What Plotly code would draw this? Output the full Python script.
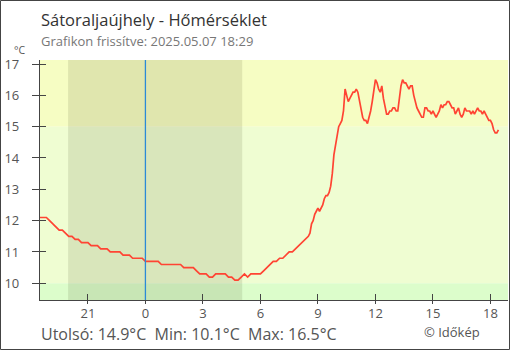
import pandas as pd
import plotly.graph_objects as go

# ---- data -------------------------------------------------------------
# Overnight readings (every 10 minutes from 18:30 on 05.06), °C
night_temps = [
    12.1, 12.1, 12.1, 12.0, 11.9, 11.8, 11.7, 11.7, 11.6, 11.5,
    11.5, 11.4, 11.4, 11.3, 11.3, 11.3, 11.2, 11.2, 11.2, 11.1,
    11.1, 11.1, 11.0, 11.0, 11.0, 11.0, 10.9, 10.9, 10.9, 10.8,
    10.8, 10.8, 10.8, 10.7, 10.7, 10.7, 10.7, 10.7, 10.6, 10.6,
    10.6, 10.6, 10.6, 10.6, 10.6, 10.5, 10.5, 10.5, 10.5, 10.4,
    10.3, 10.3, 10.3, 10.2, 10.2, 10.3, 10.3, 10.3, 10.3, 10.2,
    10.2, 10.1, 10.1, 10.2, 10.3, 10.2, 10.3, 10.3, 10.3, 10.3,
    10.4, 10.5, 10.6, 10.7, 10.7, 10.8, 10.8, 10.9, 11.0, 11.0,
    11.1, 11.2, 11.3, 11.4,
]
# Daytime readings (every 5 minutes from 08:30 on 05.07), °C
day_temps = [
    11.5, 11.6, 11.9, 12.0, 12.2, 12.3, 12.4, 12.3, 12.4, 12.5,
    12.7, 12.8, 12.8, 12.9, 13.1, 13.5, 14.1, 14.4, 14.7, 15.0,
    15.1, 15.2, 15.5, 16.2, 16.0, 15.8, 15.9, 16.0, 16.1, 16.1,
    16.2, 16.1, 15.8, 15.6, 15.3, 15.2, 15.2, 15.1, 15.3, 15.5,
    15.8, 16.1, 16.5, 16.4, 16.2, 16.1, 16.3, 15.9, 15.6, 15.4,
    15.4, 15.5, 15.5, 15.6, 15.6, 15.5, 15.5, 15.9, 16.3, 16.5,
    16.4, 16.4, 16.3, 16.2, 16.3, 16.3, 16.0, 15.8, 15.6, 15.5,
    15.4, 15.3, 15.3, 15.6, 15.6, 15.5, 15.5, 15.4, 15.5, 15.4,
    15.3, 15.4, 15.5, 15.7, 15.6, 15.7, 15.7, 15.8, 15.8, 15.7,
    15.6, 15.6, 15.4, 15.5, 15.6, 15.4, 15.3, 15.4, 15.6, 15.5,
    15.5, 15.5, 15.4, 15.5, 15.4, 15.5, 15.6, 15.5, 15.5, 15.4,
    15.5, 15.4, 15.3, 15.2, 15.2, 15.1, 14.9, 14.8, 14.8, 14.9,
]
night_times = pd.date_range("2025-05-06 18:30", periods=len(night_temps), freq="10min")
day_times = pd.date_range("2025-05-07 08:30", periods=len(day_temps), freq="5min")

times = list(night_times) + list(day_times)
temps = night_temps + day_temps

x_range = ["2025-05-06 18:30", "2025-05-07 18:55"]
y_range = [9.467, 17.128]
y_ticks = [10, 11, 12, 13, 14, 15, 16, 17]
x_tick_times = ["2025-05-06 21:00", "2025-05-07 00:00", "2025-05-07 03:00",
                "2025-05-07 06:00", "2025-05-07 09:00", "2025-05-07 12:00",
                "2025-05-07 15:00", "2025-05-07 18:00"]
x_tick_labels = ["21", "0", "3", "6", "9", "12", "15", "18"]

band_low, band_high = 10, 15
sunset = "2025-05-06 19:58"
sunrise = "2025-05-07 05:03"
midnight = "2025-05-07 00:00"

title = "Sátoraljaújhely - Hőmérséklet"
subtitle = "Grafikon frissítve: 2025.05.07 18:29"
credit = "© Időkép"

# ---- layout geometry (pixels) ------------------------------------------
W, H = 510, 350
ML, MR, MT, MB = 40, 2, 60, 50
PW, PH = W - ML - MR, H - MT - MB


def px_x(px):
    return (px - ML) / PW


def px_y(py):
    return (H - MB - py) / PH


AXIS = "#444444"
TEXT = "#555555"
FONT = "Open Sans"

fig = go.Figure()

fig.add_trace(go.Scatter(
    x=times, y=temps, mode="lines",
    line=dict(color="#ff4433", width=1.7),
    hoverinfo="skip", showlegend=False,
))
# companion traces carrying the overlaid axes that draw the tick halves
for ax_x, ax_y in (("x2", "y2"), ("x3", "y2")):
    fig.add_trace(go.Scatter(
        x=times, y=temps, mode="lines", xaxis=ax_x, yaxis=ax_y,
        line=dict(color="rgba(0,0,0,0)", width=0),
        hoverinfo="skip", showlegend=False,
    ))

shapes = [
    # temperature bands
    dict(type="rect", xref="paper", yref="y", x0=0, x1=1, y0=band_high, y1=y_range[1],
         fillcolor="#f6fdc3", line_width=0, layer="below"),
    dict(type="rect", xref="paper", yref="y", x0=0, x1=1, y0=band_low, y1=band_high,
         fillcolor="#effdd2", line_width=0, layer="below"),
    dict(type="rect", xref="paper", yref="y", x0=0, x1=1, y0=y_range[0], y1=band_low,
         fillcolor="#dcfdcb", line_width=0, layer="below"),
    # night
    dict(type="rect", xref="x", yref="paper", x0=sunset, x1=sunrise, y0=0, y1=1,
         fillcolor="rgba(40,40,0,0.105)", line_width=0, layer="below"),
    # midnight marker
    dict(type="line", xref="x", yref="paper", x0=midnight, x1=midnight, y0=0, y1=1,
         line=dict(color="#2b8ad6", width=1.3), layer="above"),
    # outer frame
    dict(type="rect", xref="paper", yref="paper",
         x0=px_x(0.5), x1=px_x(W - 0.5), y0=px_y(H - 0.5), y1=px_y(0.5),
         line=dict(color=AXIS, width=1), fillcolor="rgba(0,0,0,0)", layer="above"),
]

annotations = [
    dict(text=title, xref="paper", yref="paper", x=px_x(39), y=px_y(19.5),
         xanchor="left", yanchor="middle", showarrow=False,
         font=dict(family=FONT, size=16.5, color="#333333")),
    dict(text=subtitle, xref="paper", yref="paper", x=px_x(39), y=px_y(41),
         xanchor="left", yanchor="middle", showarrow=False,
         font=dict(family=FONT, size=13, color="#777777")),
    dict(text="°C", xref="paper", yref="paper", x=px_x(19), y=px_y(50),
         xanchor="center", yanchor="middle", showarrow=False,
         font=dict(family=FONT, size=10.5, color=TEXT)),
    dict(text=f"Utolsó: {temps[-1]:.1f}°C  Min: {min(temps):.1f}°C  Max: {max(temps):.1f}°C",
         xref="paper", yref="paper", x=px_x(39), y=px_y(334),
         xanchor="left", yanchor="middle", showarrow=False,
         font=dict(family=FONT, size=16, color=TEXT)),
    dict(text=credit, xref="paper", yref="paper", x=px_x(482), y=px_y(332),
         xanchor="right", yanchor="middle", showarrow=False,
         font=dict(family=FONT, size=13, color=TEXT)),
]

common_x = dict(type="date", range=x_range, tickmode="array",
                tickvals=x_tick_times, ticktext=x_tick_labels,
                showgrid=False, zeroline=False, fixedrange=True)
common_y = dict(range=y_range, tickmode="array", tickvals=y_ticks,
                showgrid=False, zeroline=False, fixedrange=True)

fig.update_layout(
    width=W, height=H,
    margin=dict(l=ML, r=MR, t=MT, b=MB, pad=0),
    paper_bgcolor="white", plot_bgcolor="white",
    font=dict(family=FONT, color=TEXT),
    # labels sit close under the axis line; the tick marks come from x2/x3
    xaxis=dict(**common_x, showline=True, linecolor=AXIS, linewidth=1.3,
               ticks="", tickfont=dict(family=FONT, size=13, color=TEXT),
               ticklabelstandoff=1),
    xaxis2=dict(**common_x, overlaying="x", anchor="y2", side="bottom",
                showline=False, ticks="outside", ticklen=3, tickwidth=1.3,
                tickcolor=AXIS, showticklabels=False),
    xaxis3=dict(**common_x, overlaying="x", anchor="y2", side="bottom",
                showline=False, ticks="inside", ticklen=6, tickwidth=1.3,
                tickcolor=AXIS, showticklabels=False),
    yaxis=dict(**common_y, showline=True, linecolor=AXIS, linewidth=1.3,
               ticks="outside", ticklen=7, tickwidth=1.3, tickcolor=AXIS,
               tickfont=dict(family=FONT, size=13, color=TEXT), ticklabelstandoff=10),
    yaxis2=dict(**common_y, overlaying="y", anchor="x2", side="left",
                showline=False, ticks="inside", ticklen=6, tickwidth=1.3,
                tickcolor=AXIS, showticklabels=False),
    shapes=shapes,
    annotations=annotations,
    showlegend=False,
)

fig.write_html("out.html")
